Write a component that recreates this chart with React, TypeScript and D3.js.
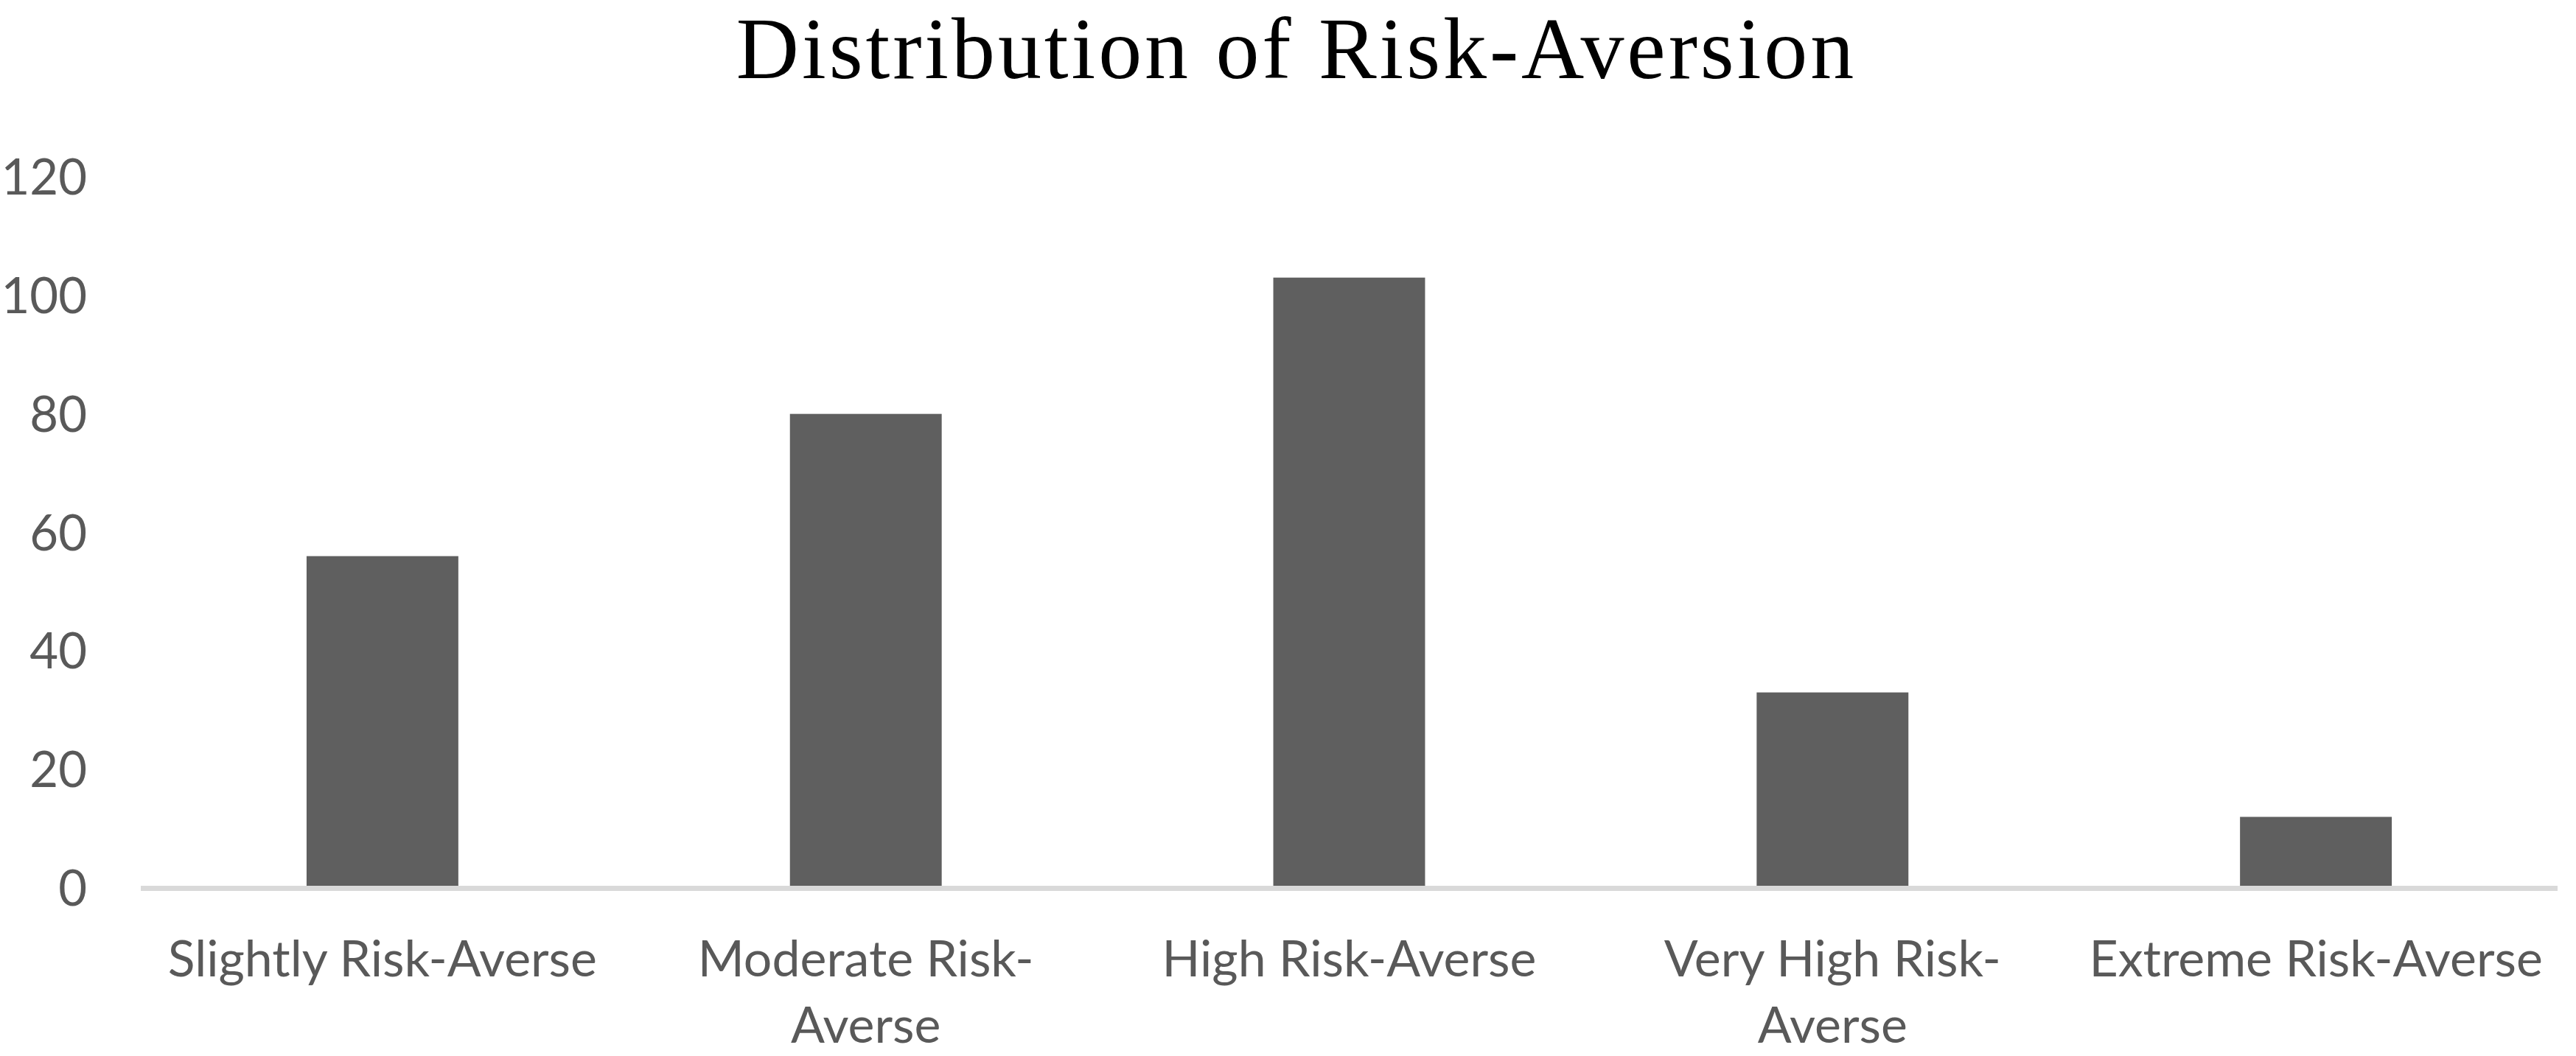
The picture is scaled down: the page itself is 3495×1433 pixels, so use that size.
import React, { useEffect } from "react";
import * as d3 from "d3";

const categories: string[][] = [
  ["Slightly Risk-Averse"],
  ["Moderate Risk-", "Averse"],
  ["High Risk-Averse"],
  ["Very High Risk-", "Averse"],
  ["Extreme Risk-Averse"],
];
const values: number[] = [56, 80, 103, 33, 12];
const yTicks: number[] = [0, 20, 40, 60, 80, 100, 120];
const title = "Distribution of Risk-Aversion";

const W = 3495;
const H = 1433;
const plotLeft = 191;
const plotRight = 3470;
const plotTop = 240;
const plotBottom = 1205;

export default function App() {
  useEffect(() => {
    document.body.style.margin = "0";
  }, []);

  const keys = categories.map((c) => c.join(" "));
  const x = d3
    .scaleBand<string>()
    .domain(keys)
    .range([plotLeft, plotRight])
    .paddingInner(0.686)
    .paddingOuter(0.343);
  const y = d3.scaleLinear().domain([0, 120]).range([plotBottom, plotTop]);

  const labelFont = "Lato, 'Open Sans', sans-serif";

  return (
    <svg
      width={W}
      height={H}
      viewBox={`0 0 ${W} ${H}`}
      style={{ display: "block", position: "absolute", left: 0, top: 0, background: "#fff" }}
    >
      <rect x={0} y={0} width={W} height={H} fill="#ffffff" />
      <text
        x={1759}
        y={106}
        textAnchor="middle"
        fontFamily="'Liberation Serif', 'DejaVu Serif', serif"
        fontSize={118}
        letterSpacing={3.9}
        fill="#000000"
      >
        {title}
      </text>

      {yTicks.map((t) => (
        <text
          key={t}
          x={118}
          y={y(t)}
          dy="0.36em"
          textAnchor="end"
          fontFamily={labelFont}
          fontSize={67}
          fill="#595959"
        >
          {t}
        </text>
      ))}

      {values.map((v, i) => (
        <rect
          key={keys[i]}
          x={x(keys[i])}
          y={y(v)}
          width={x.bandwidth()}
          height={y(0) - y(v)}
          fill="#5f5f5f"
        />
      ))}

      <line
        x1={plotLeft}
        x2={plotRight}
        y1={y(0) + 0.5}
        y2={y(0) + 0.5}
        stroke="#d9d9d9"
        strokeWidth={7}
      />

      {categories.map((lines, i) => {
        const cx = (x(keys[i]) as number) + x.bandwidth() / 2;
        return (
          <text
            key={keys[i]}
            textAnchor="middle"
            fontFamily={labelFont}
            fontSize={68}
            fill="#595959"
          >
            {lines.map((ln, j) => (
              <tspan key={j} x={cx} y={1325 + j * 90}>
                {ln}
              </tspan>
            ))}
          </text>
        );
      })}
    </svg>
  );
}
